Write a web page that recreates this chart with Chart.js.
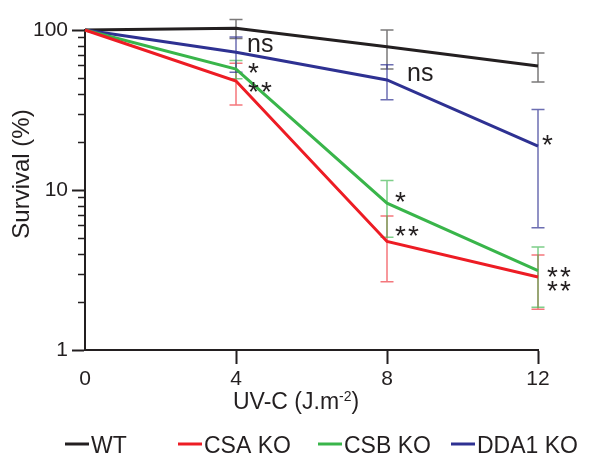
<!doctype html>
<html>
<head>
<meta charset="utf-8">
<title>UV-C survival</title>
<script src="https://cdn.jsdelivr.net/npm/chart.js"></script>
<style>
  html, body { margin: 0; padding: 0; background: #fff; }
  #wrap { width: 589px; height: 473px; }
</style>
</head>
<body>
<div id="wrap"><canvas id="survival" width="589" height="473"></canvas></div>
<script>
// UV-C dose (J.m-2)
var doses = [0, 4, 8, 12];
var seriesNames = ['WT', 'CSA KO', 'CSB KO', 'DDA1 KO'];

// mean survival (%) and SD at each dose
var wtSurvival = [100, 102.5, 78.6, 59.6];
var wtSd = [0, 14, 21.5, 12.3];
var csaSurvival = [100, 48.0, 4.77, 2.86];
var csaSd = [0, 14, 2.1, 1.06];
var csbSurvival = [100, 57.0, 8.27, 3.13];
var csbSd = [0, 7.5, 3.2, 1.28];
var dda1Survival = [100, 72.5, 48.7, 18.8];
var dda1Sd = [0, 18, 12, 13];

// significance vs WT: [series index, dose, label]
var sigSeries = [3, 2, 1, 3, 3, 2, 1, 2, 1];
var sigDoses = [4, 4, 4, 8, 12, 8, 8, 12, 12];
var sigText = ['ns', '*', '**', 'ns', '*', '*', '**', '**', '**'];

var yTickValues = [1, 10, 100];

var means = [wtSurvival, csaSurvival, csbSurvival, dda1Survival];
var sds = [wtSd, csaSd, csbSd, dda1Sd];
var lineColors = ['#231f20', '#ed1c24', '#39b54a', '#2e3192'];
var barColors = ['rgba(35,31,32,0.6)', 'rgba(237,28,36,0.6)', 'rgba(57,181,74,0.65)', 'rgba(46,49,146,0.7)'];
var FONT = '"Liberation Sans", Arial, Helvetica, sans-serif';
var INK = '#231f20';

Chart.defaults.font.family = FONT;
Chart.defaults.color = INK;

// draw text so that its ink box starts at x and is vertically centred on cy
function inkText(ctx, text, x, cy) {
    ctx.textAlign = 'left';
    ctx.textBaseline = 'alphabetic';
    var m = ctx.measureText(text);
    var base = cy + (m.actualBoundingBoxAscent - m.actualBoundingBoxDescent) / 2;
    ctx.fillText(text, x + m.actualBoundingBoxLeft, base);
    return m;
}

var errorBars = {
    id: 'errorBars',
    beforeDatasetsDraw: function(chart) {
        var ctx = chart.ctx, xs = chart.scales.x, ys = chart.scales.y;
        ctx.save();
        ctx.lineWidth = 1.5;
        means.forEach(function(m, k) {
            ctx.strokeStyle = barColors[k];
            doses.forEach(function(d, i) {
                if (!sds[k][i]) return;
                var x = xs.getPixelForValue(d);
                var top = ys.getPixelForValue(m[i] + sds[k][i]);
                var bot = ys.getPixelForValue(m[i] - sds[k][i]);
                ctx.beginPath();
                ctx.moveTo(x, top); ctx.lineTo(x, bot);
                ctx.moveTo(x - 6.5, top); ctx.lineTo(x + 6.5, top);
                ctx.moveTo(x - 6.5, bot); ctx.lineTo(x + 6.5, bot);
                ctx.stroke();
            });
        });
        ctx.restore();
    }
};

// offsets of the significance marks from their points
var sigOffsets = [[12, -7], [12, -1], [12, 6], [21, -5.5], [4, -6], [8, -6], [8, -10], [9, 1], [9, 9]];

var decorations = {
    id: 'decorations',
    afterDraw: function(chart) {
        var ctx = chart.ctx, xs = chart.scales.x, ys = chart.scales.y;
        var left = chart.chartArea.left;
        ctx.save();
        ctx.fillStyle = INK;
        ctx.strokeStyle = INK;

        // minor log ticks
        ctx.lineWidth = 1.5;
        ctx.beginPath();
        [1, 10].forEach(function(dec) {
            for (var n = 2; n <= 9; n++) {
                var y = Math.round(ys.getPixelForValue(n * dec)) + 0.5;
                ctx.moveTo(left - 7, y); ctx.lineTo(left, y);
            }
        });
        ctx.stroke();

        // significance marks
        sigText.forEach(function(t, j) {
            var k = sigSeries[j];
            var i = doses.indexOf(sigDoses[j]);
            var x = xs.getPixelForValue(sigDoses[j]) + sigOffsets[j][0];
            var y = ys.getPixelForValue(means[k][i]) + sigOffsets[j][1];
            if (t === 'ns') {
                ctx.font = '25px ' + FONT;
                inkText(ctx, t, x, y);
            } else {
                ctx.font = '28px ' + FONT;
                for (var c = 0; c < t.length; c++) inkText(ctx, '*', x + c * 13, y);
            }
        });

        // y title
        ctx.font = '24px ' + FONT;
        ctx.save();
        var yt = 'Survival (%)';
        var m = ctx.measureText(yt);
        ctx.translate(22.5 + (m.actualBoundingBoxAscent - m.actualBoundingBoxDescent) / 2, 174);
        ctx.rotate(-Math.PI / 2);
        ctx.textAlign = 'center';
        ctx.textBaseline = 'alphabetic';
        ctx.fillText(yt, 0, 0);
        ctx.restore();

        // x title with superscript
        var tx = 233, base = 408.5;
        ctx.textAlign = 'left';
        ctx.textBaseline = 'alphabetic';
        ctx.font = '23px ' + FONT;
        ctx.fillText('UV-C (J.m', tx, base);
        tx += ctx.measureText('UV-C (J.m').width;
        ctx.font = '14px ' + FONT;
        ctx.fillText('-2', tx, base - 8);
        tx += ctx.measureText('-2').width;
        ctx.font = '23px ' + FONT;
        ctx.fillText(')', tx, base);

        // legend
        var legendX = [65, 178, 318, 451];
        ctx.font = '23px ' + FONT;
        ctx.lineWidth = 3;
        seriesNames.forEach(function(name, k) {
            var lx = legendX[k];
            ctx.strokeStyle = lineColors[k];
            ctx.beginPath();
            ctx.moveTo(lx, 444); ctx.lineTo(lx + 24, 444);
            ctx.stroke();
            ctx.textBaseline = 'alphabetic';
            ctx.fillText(name, lx + 26, 452.5);
        });
        ctx.restore();
    }
};

var datasets = means.map(function(m, k) {
    return {
        label: seriesNames[k],
        data: doses.map(function(d, i) { return {x: d, y: m[i]}; }),
        borderColor: lineColors[k],
        backgroundColor: lineColors[k],
        borderWidth: 3,
        pointRadius: 0,
        tension: 0,
        clip: false
    };
});
// WT on top
datasets = [datasets[1], datasets[2], datasets[3], datasets[0]];

new Chart(document.getElementById('survival'), {
    type: 'line',
    data: {datasets: datasets},
    options: {
        responsive: false,
        animation: false,
        devicePixelRatio: 1,
        layout: {padding: {left: 0, right: 51, top: 30, bottom: 0}},
        plugins: {legend: {display: false}, tooltip: {enabled: false}},
        scales: {
            x: {
                type: 'linear',
                min: 0,
                max: 12,
                afterBuildTicks: function(s) { s.ticks = doses.map(function(v) { return {value: v}; }); },
                afterFit: function(s) { s.height = 123; },
                ticks: {font: {size: 21}, color: INK, padding: 3, maxRotation: 0},
                grid: {
                    drawOnChartArea: false,
                    tickLength: 14,
                    tickWidth: 2,
                    tickColor: function(c) { return c.index === 0 ? 'rgba(0,0,0,0)' : INK; }
                },
                border: {display: true, color: INK, width: 2}
            },
            y: {
                type: 'logarithmic',
                min: 1,
                max: 100,
                afterBuildTicks: function(s) { s.ticks = yTickValues.map(function(v) { return {value: v, major: true}; }); },
                afterFit: function(s) { s.width = 85; },
                ticks: {font: {size: 21}, color: INK, padding: 4, autoSkip: false,
                    callback: function(v) { return String(v); }},
                grid: {drawOnChartArea: false, tickLength: 13, tickWidth: 2, tickColor: INK},
                border: {display: true, color: INK, width: 2}
            }
        }
    },
    plugins: [errorBars, decorations]
});
</script>
</body>
</html>
